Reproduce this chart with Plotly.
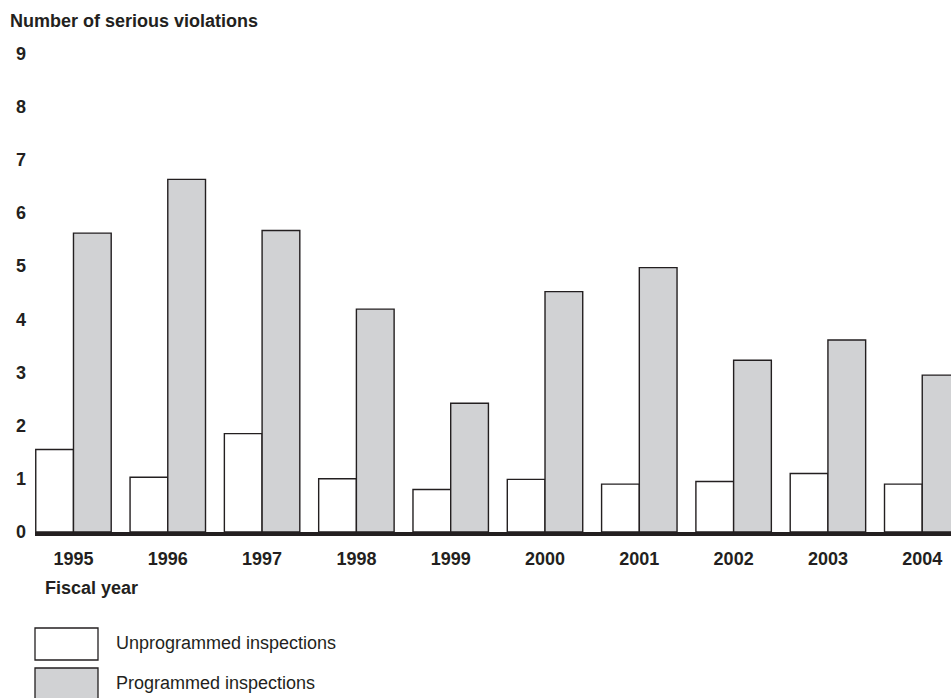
import plotly.graph_objects as go

years = ["1995", "1996", "1997", "1998", "1999", "2000", "2001", "2002", "2003", "2004"]
unprogrammed = [1.55, 1.03, 1.85, 1.00, 0.80, 0.99, 0.90, 0.95, 1.10, 0.90]
programmed = [5.62, 6.63, 5.67, 4.19, 2.42, 4.52, 4.97, 3.23, 3.61, 2.95]
y_ticks = [0, 1, 2, 3, 4, 5, 6, 7, 8, 9]

W, H = 951, 698
L, R, T, B = 35, 0, 48, 166
pw, ph = W - L - R, H - T - B

def px(x):
    return (x - L) / pw

def py(y):
    return (H - B - y) / ph

GREY = "#d1d2d4"
INK = "#231f20"
FONT = "Liberation Sans, Arial, sans-serif"

fig = go.Figure()
fig.add_trace(go.Bar(x=years, y=unprogrammed, name="Unprogrammed inspections",
                     marker=dict(color="white", line=dict(color=INK, width=1.4))))
fig.add_trace(go.Bar(x=years, y=programmed, name="Programmed inspections",
                     marker=dict(color=GREY, line=dict(color=INK, width=1.4))))

fig.update_layout(
    width=W, height=H,
    margin=dict(l=L, r=R, t=T, b=B),
    paper_bgcolor="white", plot_bgcolor="white",
    barmode="group", bargap=0.2, bargroupgap=0,
    showlegend=False,
    font=dict(family=FONT, color=INK),
)
fig.update_xaxes(
    type="category", range=[-0.408, 9.305],
    showgrid=False, showline=True, linewidth=4, linecolor=INK,
    ticks="", tickfont=dict(size=18, family=FONT, color=INK, weight="bold"),
    ticklabelstandoff=7, ticklabeloverflow="allow",
)
fig.update_yaxes(
    range=[0, 9.1], tickvals=y_ticks, showgrid=False, showline=False,
    zeroline=False, ticks="", ticklabelstandoff=8,
    tickfont=dict(size=18, family=FONT, color=INK, weight="bold"),
)

fig.add_annotation(text="<b>Number of serious violations</b>", xref="paper", yref="paper",
                   x=px(8), y=py(21), xanchor="left", yanchor="middle", showarrow=False,
                   font=dict(size=18, family=FONT, color=INK))
fig.add_annotation(text="<b>Fiscal year</b>", xref="paper", yref="paper",
                   x=px(43), y=py(588), xanchor="left", yanchor="middle", showarrow=False,
                   font=dict(size=18, family=FONT, color=INK))

legend_items = [("Unprogrammed inspections", "white", 628, 660),
                ("Programmed inspections", GREY, 668, 700)]
for label, fill, y0, y1 in legend_items:
    fig.add_shape(type="rect", xref="paper", yref="paper",
                  x0=px(35), x1=px(98), y0=py(y0), y1=py(y1),
                  fillcolor=fill, line=dict(color=INK, width=1.3))
    fig.add_annotation(text=label, xref="paper", yref="paper",
                       x=px(114), y=py((y0 + y1) / 2 - 1), xanchor="left", yanchor="middle",
                       showarrow=False, font=dict(size=18, family=FONT, color=INK))

fig.write_html(
    "out.html",
    config={"displayModeBar": False},
    post_script="document.body.style.margin='0';"
                "document.documentElement.style.overflow='hidden';"
                "document.body.style.overflow='hidden';",
)
